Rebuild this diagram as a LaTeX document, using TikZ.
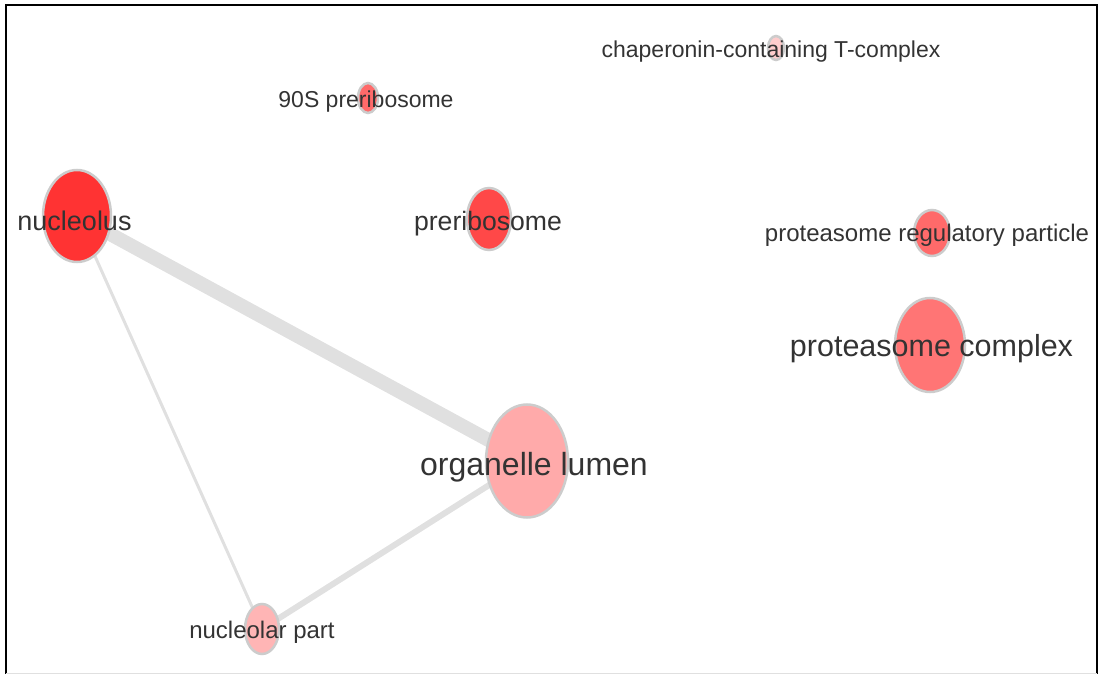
\documentclass[tikz,border=0pt]{standalone}
\usepackage{fontspec}
\setmainfont{Liberation Sans}
\usetikzlibrary{shapes.geometric,backgrounds}

\definecolor{edgegrey}{HTML}{E0E0E0}
\definecolor{ringgrey}{HTML}{CCCCCC}
\definecolor{labelgrey}{HTML}{333333}
\definecolor{hotred}{HTML}{FF3333}
\definecolor{midred}{HTML}{FF4848}
\definecolor{softred}{HTML}{FF6A6A}
\definecolor{palered}{HTML}{FF7575}
\definecolor{pinkred}{HTML}{FFAAAA}
\definecolor{lightpink}{HTML}{FFB5B5}
\definecolor{faintpink}{HTML}{FFCCCC}

\begin{document}
\begin{tikzpicture}[x=1pt,y=-1pt,
        term/.style={ellipse,draw=ringgrey,line width=2.5pt,inner sep=0pt},
        lbl/.style={text=labelgrey,inner sep=0pt,anchor=base},
        link/.style={edgegrey,line cap=round}]
        \useasboundingbox (0,0) rectangle (1104,674);
        % frame
        \draw[black,line width=2.2pt] (6,674) -- (6,5) -- (1097,5) -- (1097,674);
        \draw[edgegrey,line width=1pt] (6,673) -- (1097,673);

        \node[term,fill=hotred,minimum width=68pt,minimum height=92pt] at (77,216) (nucleolus) {};
        \node[term,fill=midred,minimum width=44pt,minimum height=62pt] at (489,219) (prerib) {};
        \node[term,fill=softred,minimum width=20pt,minimum height=30pt] at (368,98) (prerib90) {};
        \node[term,fill=faintpink,minimum width=16pt,minimum height=24pt] at (776,48) (chaperonin) {};
        \node[term,fill=softred,minimum width=36pt,minimum height=46pt] at (932,233) (regulatory) {};
        \node[term,fill=palered,minimum width=70pt,minimum height=94pt] at (930,345) (proteasome) {};
        \node[term,fill=pinkred,minimum width=82pt,minimum height=113pt] at (527,461) (lumen) {};
        \node[term,fill=lightpink,minimum width=34pt,minimum height=50pt] at (262,629) (nucpart) {};

        \begin{scope}[on background layer]
            \draw[link,line width=14pt] (nucleolus.center) -- (lumen.center);
            \draw[link,line width=3pt] (nucleolus.center) -- (nucpart.center);
            \draw[link,line width=6pt] (nucpart.center) -- (lumen.center);
        \end{scope}

        \node[lbl,font=\fontsize{27}{27}\selectfont] at (74.5,230) {nucleolus};
        \node[lbl,font=\fontsize{26.6}{27}\selectfont] at (488,230) {preribosome};
        \node[lbl,font=\fontsize{23}{23}\selectfont] at (366,108) {90S preribosome};
        \node[lbl,font=\fontsize{23}{23}\selectfont] at (771,58) {chaperonin-containing T-complex};
        \node[lbl,font=\fontsize{24}{24}\selectfont] at (927,241) {proteasome regulatory particle};
        \node[lbl,font=\fontsize{30.5}{31}\selectfont] at (931.5,356) {proteasome complex};
        \node[lbl,font=\fontsize{32}{32}\selectfont] at (534,475) {organelle lumen};
        \node[lbl,font=\fontsize{24}{24}\selectfont] at (262,638) {nucleolar part};
\end{tikzpicture}
\end{document}
